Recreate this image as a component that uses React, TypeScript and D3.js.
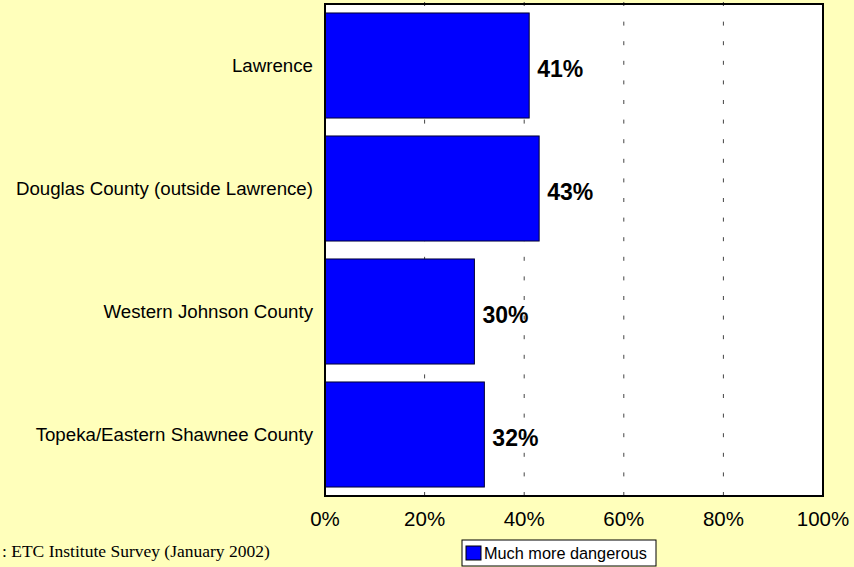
import React from "react";
import * as d3 from "d3";

const categories = [
  "Lawrence",
  "Douglas County (outside Lawrence)",
  "Western Johnson County",
  "Topeka/Eastern Shawnee County",
];
const values = [41, 43, 30, 32];
const xTicks = [0, 20, 40, 60, 80, 100];
const seriesName = "Much more dangerous";
const sourceText = ":  ETC Institute Survey (January 2002)";

const W = 854;
const H = 567;
const plot = { left: 325, right: 823, top: 4, bottom: 496 };

export default function App() {
  React.useEffect(() => {
    document.body.style.margin = "0";
  }, []);

  const x = d3.scaleLinear().domain([0, 100]).range([plot.left, plot.right]);
  const y = d3
    .scaleBand<string>()
    .domain(categories)
    .range([plot.top, plot.bottom])
    .paddingInner(0.146)
    .paddingOuter(0.073);

  const sans = "Arial, 'Liberation Sans', sans-serif";

  return (
    <svg width={W} height={H} style={{ display: "block" }}>
      <rect x={0} y={0} width={W} height={H} fill="#FFFFBB" />
      <rect
        x={plot.left}
        y={plot.top}
        width={plot.right - plot.left}
        height={plot.bottom - plot.top}
        fill="#FFFFFF"
      />
      {xTicks.slice(1, -1).map((t) => (
        <line
          key={"g" + t}
          x1={x(t)}
          x2={x(t)}
          y1={plot.top - 2}
          y2={plot.bottom}
          stroke="#444"
          strokeWidth={1}
          strokeDasharray="4 15.6"
        />
      ))}
      {categories.map((c, i) => {
        const by = y(c)!;
        const bh = y.bandwidth();
        const xe = x(values[i]);
        return (
          <g key={c}>
            <rect
              x={x(0)}
              y={by}
              width={xe - x(0)}
              height={bh}
              fill="#0000FF"
              stroke="#000033"
              strokeWidth={1}
            />
            <text
              x={xe + 8}
              y={by + bh / 2 + 11}
              fontFamily={sans}
              fontWeight="bold"
              fontSize={23}
              fill="#000"
            >
              {values[i]}%
            </text>
            <text
              x={plot.left - 12}
              y={by + bh / 2 + 6.5}
              textAnchor="end"
              fontFamily={sans}
              fontSize={18.7}
              fill="#000"
            >
              {c}
            </text>
          </g>
        );
      })}
      <rect
        x={plot.left}
        y={plot.top}
        width={plot.right - plot.left}
        height={plot.bottom - plot.top}
        fill="none"
        stroke="#000"
        strokeWidth={2}
      />
      {xTicks.map((t) => (
        <text
          key={"t" + t}
          x={x(t)}
          y={526}
          textAnchor="middle"
          fontFamily={sans}
          fontSize={20.5}
          fill="#000"
        >
          {t}%
        </text>
      ))}
      <text
        x={2}
        y={557}
        fontFamily="'Liberation Serif', 'Times New Roman', serif"
        fontSize={17.5}
        fill="#000"
      >
        {sourceText}
      </text>
      <g>
        <rect x={462} y={540} width={194} height={26} fill="#FFFFFF" stroke="#000" strokeWidth={1} />
        <rect x={466} y={546} width={15} height={14} fill="#0000FF" stroke="#000" strokeWidth={1} />
        <text x={484} y={559} fontFamily={sans} fontSize={16.3} fill="#000">
          {seriesName}
        </text>
      </g>
    </svg>
  );
}
